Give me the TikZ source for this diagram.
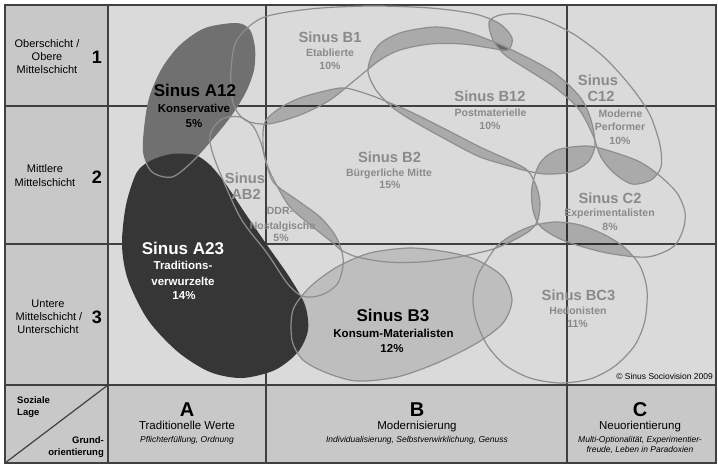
\documentclass[tikz,border=0pt]{standalone}
\usepackage{fontspec}
\setmainfont{Liberation Sans}
\definecolor{bgmain}{HTML}{DADADA}
\definecolor{bgside}{HTML}{C8C8C8}
\definecolor{gridc}{HTML}{404040}
\definecolor{outl}{HTML}{8E8E8E}
\definecolor{aonetwo}{HTML}{707070}
\definecolor{atwothree}{HTML}{363636}
\definecolor{bthree}{HTML}{BEBEBE}
\definecolor{labgray}{HTML}{8A8A8A}
\tikzset{
  pAonetwo/.style={insert path={plot[smooth cycle] coordinates{(237,23) (250,30) (255,48) (254,70) (246,92) (232,115) (212,140) (192,162) (172,177) (152,172) (143,152) (145,120) (150,95) (162,68) (180,45) (205,28)}}},
  pAtwothree/.style={insert path={plot[smooth cycle] coordinates{(137,172) (152,160) (172,154) (195,155) (210,165) (225,183) (245,213) (267,245) (290,278) (305,305) (308,330) (298,352) (275,370) (242,378) (210,372) (178,352) (148,320) (128,280) (122,245) (126,205)}}},
  pBthree/.style={insert path={plot[smooth cycle] coordinates{(293,310) (310,287) (337,267) (370,253) (410,248) (447,252) (477,260) (503,277) (512,300) (503,323) (477,343) (437,363) (397,377) (357,381) (327,373) (303,360) (292,340)}}},
  pABtwo/.style={insert path={plot[smooth cycle] coordinates{(210,135) (222,119) (240,117) (253,126) (261,143) (266,162) (274,183) (297,200) (320,217) (335,235) (342,252) (343,266) (338,283) (326,293) (312,297) (300,295) (287,283) (267,253) (240,217) (215,160)}}},
  pBtwo/.style={insert path={plot[smooth cycle] coordinates{(265,122) (280,108) (300,98) (325,91) (345,88) (370,95) (390,103) (413,113) (447,130) (480,147) (513,162) (528,171) (537,188) (540,205) (537,222) (528,232) (510,242) (490,250) (453,258) (420,262) (387,262) (357,257) (341,250) (333,243) (313,227) (290,207) (276,184) (267,165) (263,145)}}},
  pBone/.style={insert path={plot[smooth cycle] coordinates{(231,70) (237,40) (262,18) (310,9) (370,6) (430,8) (475,14) (500,24) (512,38) (508,50) (490,48) (463,44) (430,44) (400,50) (380,60) (355,80) (330,100) (300,115) (268,124) (245,120) (233,103)}}},
  pBonetwo/.style={insert path={plot[smooth cycle] coordinates{(368,72) (372,55) (382,42) (403,32) (437,27) (470,33) (510,49) (553,72) (580,97) (591,120) (595,145) (588,162) (570,172) (545,174) (523,170) (513,167) (480,157) (447,140) (413,121) (392,107) (376,90)}}},
  pConetwo/.style={insert path={plot[smooth cycle] coordinates{(489,22) (500,15) (520,14) (545,20) (575,35) (605,58) (632,88) (650,115) (660,145) (661,167) (651,180) (632,184) (614,173) (601,157) (592,133) (578,108) (553,86) (525,68) (505,55) (493,40)}}},
  pCtwo/.style={insert path={plot[smooth cycle] coordinates{(532,187) (540,163) (557,150) (587,146) (613,152) (640,162) (660,176) (677,193) (685,212) (683,230) (673,247) (647,257) (607,253) (565,241) (541,227) (533,210)}}},
  pBCthree/.style={insert path={plot[smooth cycle] coordinates{(473,297) (478,275) (487,260) (497,246) (512,235) (532,226) (555,222) (580,225) (605,235) (625,248) (640,266) (647,290) (645,320) (635,345) (615,366) (590,379) (560,383) (530,378) (505,365) (487,345) (476,320)}}},
  lensfill/.style={fill=black, fill opacity=0.22},
  milieuline/.style={draw=outl, line width=1.2pt},
  gridline/.style={draw=gridc, line width=1.5pt},
  ttlK/.style={font=\fontsize{17}{20}\selectfont\bfseries, text=black, anchor=base, inner sep=0pt},
  subK/.style={font=\fontsize{11.5}{14}\selectfont\bfseries, text=black, anchor=base, inner sep=0pt},
  ttlG/.style={font=\fontsize{14.7}{17}\selectfont\bfseries, text=labgray, anchor=base, inner sep=0pt},
  subG/.style={font=\fontsize{10.5}{13}\selectfont\bfseries, text=labgray, anchor=base, inner sep=0pt},
  lefttxt/.style={font=\fontsize{11}{13}\selectfont, text=black, anchor=base, inner sep=0pt},
  numtxt/.style={font=\fontsize{18}{20}\selectfont\bfseries, text=black, anchor=base, inner sep=0pt},
  corner/.style={font=\fontsize{9.5}{12}\selectfont\bfseries, text=black, anchor=base, inner sep=0pt},
  colletter/.style={font=\fontsize{20}{22}\selectfont\bfseries, text=black, anchor=base, inner sep=0pt},
  colname/.style={font=\fontsize{11.5}{14}\selectfont, text=black, anchor=base, inner sep=0pt},
  colit/.style={font=\fontsize{8.5}{10}\selectfont\itshape, text=black, anchor=base, inner sep=0pt},
}
\begin{document}
\begin{tikzpicture}[x=1pt,y=-1pt]
\useasboundingbox (0,0) rectangle (718,466);
% backgrounds
\fill[bgmain] (5,5) rectangle (716,463);
\fill[bgside] (5,5) rectangle (108,463);
\fill[bgside] (5,385) rectangle (716,463);
% grid
\draw[gridline] (108,5) -- (108,463);
\draw[gridline] (266,5) -- (266,463);
\draw[gridline] (567,5) -- (567,463);
\draw[gridline] (5,106) -- (716,106);
\draw[gridline] (5,244) -- (716,244);
\draw[gridline] (5,385) -- (716,385);
\draw[gridline] (5,5) rectangle (716,463);
\draw[draw=gridc, line width=1.2pt] (5,463) -- (108,385);
% filled milieus
\fill[bthree, pBthree];
\fill[aonetwo, pAonetwo];
\fill[atwothree, pAtwothree];
% overlaps
\begin{scope}\clip[pBone]; \fill[lensfill, pBtwo]; \end{scope}
\begin{scope}\clip[pBone]; \fill[lensfill, pBonetwo]; \end{scope}
\begin{scope}\clip[pBone]; \fill[lensfill, pConetwo]; \end{scope}
\begin{scope}\clip[pBonetwo]; \fill[lensfill, pConetwo]; \end{scope}
\begin{scope}\clip[pBonetwo]; \fill[lensfill, pBtwo]; \end{scope}
\begin{scope}\clip[pBonetwo]; \fill[lensfill, pCtwo]; \end{scope}
\begin{scope}\clip[pConetwo]; \fill[lensfill, pCtwo]; \end{scope}
\begin{scope}\clip[pBtwo]; \fill[lensfill, pCtwo]; \end{scope}
\begin{scope}\clip[pBtwo]; \fill[lensfill, pABtwo]; \end{scope}
\begin{scope}\clip[pBtwo]; \fill[lensfill, pBCthree]; \end{scope}
\begin{scope}\clip[pBCthree]; \fill[lensfill, pCtwo]; \end{scope}
% outlines
\draw[milieuline, pBone];
\draw[milieuline, pBonetwo];
\draw[milieuline, pBtwo];
\draw[milieuline, pABtwo];
\draw[milieuline, pConetwo];
\draw[milieuline, pCtwo];
\draw[milieuline, pBCthree];
\draw[milieuline, pBthree];
\begin{scope}\clip[pAtwothree]; \draw[milieuline, pAonetwo]; \end{scope}
% left column
\node[lefttxt] (l1a) at (47,47) {Oberschicht /};
\node[lefttxt] (l1b) at (47,60) {Obere};
\node[lefttxt] (l1c) at (47,73) {Mittelschicht};
\node[numtxt] (n1) at (97,63.5) {1};
\node[lefttxt] (l2a) at (45,172) {Mittlere};
\node[lefttxt] (l2b) at (45,186) {Mittelschicht};
\node[numtxt] (n2) at (97,183.5) {2};
\node[lefttxt] (l3a) at (48,307) {Untere};
\node[lefttxt] (l3b) at (49,320) {Mittelschicht /};
\node[lefttxt] (l3c) at (48,333) {Unterschicht};
\node[numtxt] (n3) at (97,323.5) {3};
\node[corner, anchor=base west] (sl1) at (17,403.5) {Soziale};
\node[corner, anchor=base west] (sl2) at (17,415.5) {Lage};
\node[corner, anchor=base east] (go1) at (104,443.5) {Grund-};
\node[corner, anchor=base east] (go2) at (104,455.5) {orientierung};
% bottom row
\node[colletter] (ca) at (187,416) {A};
\node[colname] (cat) at (187,429.5) {Traditionelle Werte};
\node[colit] (cai) at (187,442) {Pflichterfüllung, Ordnung};
\node[colletter] (cb) at (417,416) {B};
\node[colname] (cbt) at (417,429.5) {Modernisierung};
\node[colit] (cbi) at (417,442) {Individualisierung, Selbstverwirklichung, Genuss};
\node[colletter] (cc) at (640,416) {C};
\node[colname] (cct) at (640,429.5) {Neuorientierung};
\node[colit] (cci) at (640,442) {Multi-Optionalität, Experimentier-};
\node[colit] (cci2) at (640,452) {freude, Leben in Paradoxien};
\node[colit, font=\fontsize{8.5}{10}\selectfont, anchor=base east] (copy) at (713,379) {© Sinus Sociovision 2009};
% milieu labels
\node[ttlK] (a12t) at (195,96.5) {Sinus A12};
\node[subK] (a12s) at (194,112.5) {Konservative};
\node[subK] (a12p) at (194,127.5) {5\%};
\node[ttlK, text=white] (a23t) at (183,254) {Sinus A23};
\node[subK, text=white] (a23s) at (183,269.5) {Traditions-};
\node[subK, text=white] (a23s2) at (183,285) {verwurzelte};
\node[subK, text=white] (a23p) at (184,299.5) {14\%};
\node[ttlK] (b3t) at (393,321.7) {Sinus B3};
\node[subK] (b3s) at (393.5,337.3) {Konsum-Materialisten};
\node[subK] (b3p) at (392,352) {12\%};
\node[ttlG] (b1t) at (330,42.3) {Sinus B1};
\node[subG] (b1s) at (330,56) {Etablierte};
\node[subG] (b1p) at (330,69.3) {10\%};
\node[ttlG] (b2t) at (389.5,162.7) {Sinus B2};
\node[subG] (b2s) at (389,176) {Bürgerliche Mitte};
\node[subG] (b2p) at (390,188.7) {15\%};
\node[ttlG] (b12t) at (490,101.7) {Sinus B12};
\node[subG] (b12s) at (490.5,116) {Postmaterielle};
\node[subG] (b12p) at (490,129.3) {10\%};
\node[ttlG] (c12t) at (598,85) {Sinus};
\node[ttlG] (c12t2) at (601,101) {C12};
\node[subG] (c12s) at (620.5,117.3) {Moderne};
\node[subG] (c12s2) at (620,130) {Performer};
\node[subG] (c12p) at (620,144) {10\%};
\node[ttlG] (c2t) at (610,203.3) {Sinus C2};
\node[subG] (c2s) at (609.5,216.5) {Experimentalisten};
\node[subG] (c2p) at (610,230.5) {8\%};
\node[ttlG] (bc3t) at (578.5,300.7) {Sinus BC3};
\node[subG] (bc3s) at (578,314) {Hedonisten};
\node[subG] (bc3p) at (577.5,327.3) {11\%};
\node[ttlG] (ab2t) at (245,183) {Sinus};
\node[ttlG] (ab2t2) at (246,199) {AB2};
\node[subG] (ab2s) at (280,214) {DDR-};
\node[subG] (ab2s2) at (282.5,229) {Nostalgische};
\node[subG] (ab2p) at (281,241.5) {5\%};
\end{tikzpicture}
\end{document}
